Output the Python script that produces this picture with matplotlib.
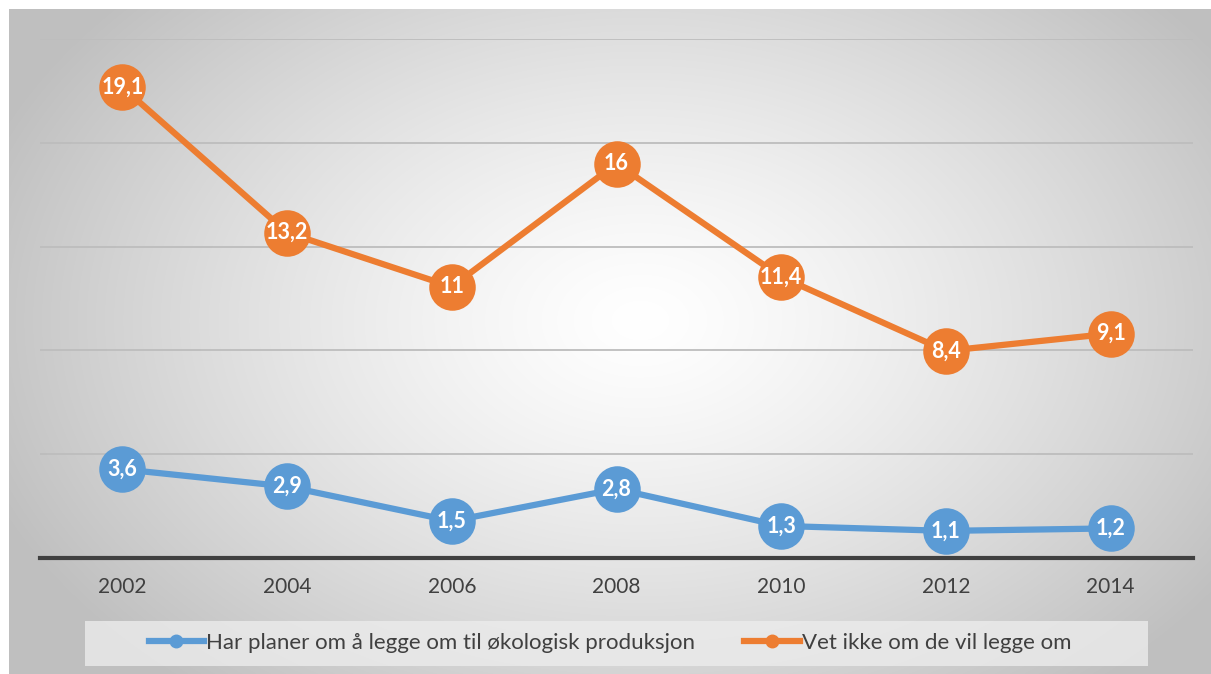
import matplotlib.pyplot as plt
import numpy as np
from matplotlib.lines import Line2D
from matplotlib.patches import Rectangle

years = ['2002', '2004', '2006', '2008', '2010', '2012', '2014']
har_planer = [3.6, 2.9, 1.5, 2.8, 1.3, 1.1, 1.2]
vet_ikke = [19.1, 13.2, 11.0, 16.0, 11.4, 8.4, 9.1]
navn = ['Har planer om å legge om til økologisk produksjon',
        'Vet ikke om de vil legge om']

blaa = '#5b9bd5'
oransje = '#ed7d31'

plt.rcParams['font.family'] = ['Lato', 'DejaVu Sans']

W, H = 1211, 674
fig = plt.figure(figsize=(W / 100, H / 100), dpi=100)

# bakgrunn: radial gradient, hvit i midten
bg = fig.add_axes([0, 0, 1, 1], zorder=-10)
yy, xx = np.mgrid[0:H, 0:W]
r = np.sqrt(((xx - 640) / 700) ** 2 + ((yy - 320) / 480) ** 2)
r = np.clip(r, 0, 1)
g = 1.0 - 0.25 * r ** 1.3
img = np.dstack([g, g, g])
img[:9, :, :] = 1.0
img[:, :9, :] = 1.0
bg.imshow(img, aspect='auto', extent=[0, W, H, 0])
bg.set_xlim(0, W)
bg.set_ylim(H, 0)
bg.axis('off')

ax = fig.add_axes([40 / W, 1 - 558 / H, (1193 - 40) / W, (558 - 39) / H])
ax.patch.set_alpha(0)
x = np.arange(len(years))
ymax = 21.05
ax.set_xlim(-0.5, len(years) - 0.5)
ax.set_ylim(0, ymax)
ax.set_yticks(np.linspace(0, ymax, 6))
ax.yaxis.grid(True, color='#bdbdbd', linewidth=1.3)
ax.set_axisbelow(True)
for s in ['top', 'right', 'left']:
    ax.spines[s].set_visible(False)
ax.spines['bottom'].set_color('#404040')
ax.spines['bottom'].set_linewidth(3)
ax.set_yticklabels([])
ax.tick_params(axis='y', length=0)
ax.tick_params(axis='x', length=0, pad=14, labelsize=15, labelcolor='#404040')
ax.set_xticks(x)
ax.set_xticklabels(years)

for verdier, farge in [(har_planer, blaa), (vet_ikke, oransje)]:
    ax.plot(x, verdier, color=farge, linewidth=4.5, marker='o', markersize=33.5,
            markeredgewidth=0, clip_on=False, zorder=3)
    for xi, v in zip(x, verdier):
        tekst = ('%g' % v).replace('.', ',')
        ax.text(xi, v, tekst, ha='center', va='center', color='white',
                fontsize=15.5, fontweight='bold', zorder=4)

# legende
fig.patches.append(Rectangle((85 / W, 1 - 666 / H), (1148 - 85) / W, 45 / H,
                             transform=fig.transFigure, facecolor='#ececec',
                             edgecolor='none', alpha=0.8, zorder=-5))
handles = [Line2D([], [], color=blaa, linewidth=4.5, marker='o', markersize=9),
           Line2D([], [], color=oransje, linewidth=4.5, marker='o', markersize=9)]
fig.legend(handles, navn, loc='center', bbox_to_anchor=(610 / W, 1 - 643 / H),
           ncol=2, frameon=False, fontsize=16, handlelength=2.5,
           handletextpad=0.1, columnspacing=2.2, labelcolor='#404040')

fig.savefig('out.png', dpi=100)
